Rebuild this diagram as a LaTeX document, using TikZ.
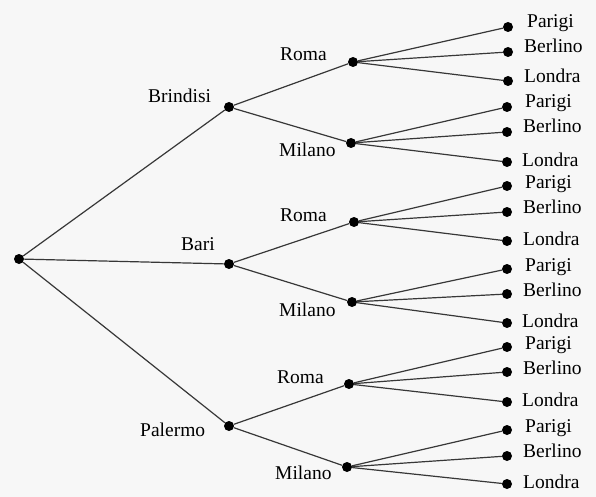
\documentclass[tikz,border=0pt]{standalone}
\usepackage{fontspec}
\newfontfamily\cityfont{Liberation Serif}
\definecolor{bggray}{RGB}{247,247,247}
\definecolor{edgegray}{RGB}{55,55,55}
\begin{document}
\begin{tikzpicture}[y=-1pt,x=1pt]
        \tikzset{
            dot/.style={circle,fill=black,inner sep=0pt,minimum size=10pt},
            city/.style={anchor=base west,inner sep=0pt,font=\cityfont\fontsize{19.5}{20}\selectfont},
            branch/.style={draw=edgegray,line width=1.2pt}
        }
        \fill[bggray] (0,0) rectangle (596,497);

        \node[dot] (r) at (19,259) {};

        \node[dot] (b) at (229,107) {};
        \node[dot] (ba) at (229,264) {};
        \node[dot] (pa) at (229,426) {};
        \node[city] (bt) at (148,103) {Brindisi};
        \node[city] (bat) at (181,250) {Bari};
        \node[city] (pat) at (140,436) {Palermo};

        \node[dot] (b1) at (353,62) {};
        \node[dot] (b2) at (351,143) {};
        \node[dot] (ba1) at (354,222) {};
        \node[dot] (ba2) at (352,302) {};
        \node[dot] (pa1) at (349,384) {};
        \node[dot] (pa2) at (347,467) {};
        \node[city] (b1t) at (280,61) {Roma};
        \node[city] (b2t) at (279,157) {Milano};
        \node[city] (ba1t) at (280,221) {Roma};
        \node[city] (ba2t) at (279,316) {Milano};
        \node[city] (pa1t) at (277,383) {Roma};
        \node[city] (pa2t) at (275,479) {Milano};

        % Brindisi - Roma
        \node[dot] (b1p) at (508,27) {};
        \node[dot] (b1b) at (508,52) {};
        \node[dot] (b1l) at (508,81) {};
        \node[city] (b1pt) at (527,28) {Parigi};
        \node[city] (b1bt) at (524,53) {Berlino};
        \node[city] (b1lt) at (524,83) {Londra};
        % Brindisi - Milano
        \node[dot] (b2p) at (507,107) {};
        \node[dot] (b2b) at (507,132) {};
        \node[dot] (b2l) at (507,162) {};
        \node[city] (b2pt) at (525,108) {Parigi};
        \node[city] (b2bt) at (523,133) {Berlino};
        \node[city] (b2lt) at (522,166) {Londra};
        % Bari - Roma
        \node[dot] (ba1p) at (507,186) {};
        \node[dot] (ba1b) at (507,212) {};
        \node[dot] (ba1l) at (507,241) {};
        \node[city] (ba1pt) at (525,188) {Parigi};
        \node[city] (ba1bt) at (523,213) {Berlino};
        \node[city] (ba1lt) at (523,245) {Londra};
        % Bari - Milano
        \node[dot] (ba2p) at (507,269) {};
        \node[dot] (ba2b) at (507,294) {};
        \node[dot] (ba2l) at (507,323) {};
        \node[city] (ba2pt) at (525,271) {Parigi};
        \node[city] (ba2bt) at (523,296) {Berlino};
        \node[city] (ba2lt) at (522,327) {Londra};
        % Palermo - Roma
        \node[dot] (pa1p) at (507,347) {};
        \node[dot] (pa1b) at (507,372) {};
        \node[dot] (pa1l) at (507,402) {};
        \node[city] (pa1pt) at (525,349) {Parigi};
        \node[city] (pa1bt) at (523,374) {Berlino};
        \node[city] (pa1lt) at (522,406) {Londra};
        % Palermo - Milano
        \node[dot] (pa2p) at (507,430) {};
        \node[dot] (pa2b) at (507,456) {};
        \node[dot] (pa2l) at (507,484) {};
        \node[city] (pa2pt) at (525,432) {Parigi};
        \node[city] (pa2bt) at (523,457) {Berlino};
        \node[city] (pa2lt) at (523,488) {Londra};

        \draw[branch] (r) -- (b);
        \draw[branch] (r) -- (ba);
        \draw[branch] (r) -- (pa);
        \draw[branch] (b) -- (b1);
        \draw[branch] (b) -- (b2);
        \draw[branch] (ba) -- (ba1);
        \draw[branch] (ba) -- (ba2);
        \draw[branch] (pa) -- (pa1);
        \draw[branch] (pa) -- (pa2);
        \draw[branch] (b1) -- (b1p);
        \draw[branch] (b1) -- (b1b);
        \draw[branch] (b1) -- (b1l);
        \draw[branch] (b2) -- (b2p);
        \draw[branch] (b2) -- (b2b);
        \draw[branch] (b2) -- (b2l);
        \draw[branch] (ba1) -- (ba1p);
        \draw[branch] (ba1) -- (ba1b);
        \draw[branch] (ba1) -- (ba1l);
        \draw[branch] (ba2) -- (ba2p);
        \draw[branch] (ba2) -- (ba2b);
        \draw[branch] (ba2) -- (ba2l);
        \draw[branch] (pa1) -- (pa1p);
        \draw[branch] (pa1) -- (pa1b);
        \draw[branch] (pa1) -- (pa1l);
        \draw[branch] (pa2) -- (pa2p);
        \draw[branch] (pa2) -- (pa2b);
        \draw[branch] (pa2) -- (pa2l);
    \end{tikzpicture}
\end{document}
